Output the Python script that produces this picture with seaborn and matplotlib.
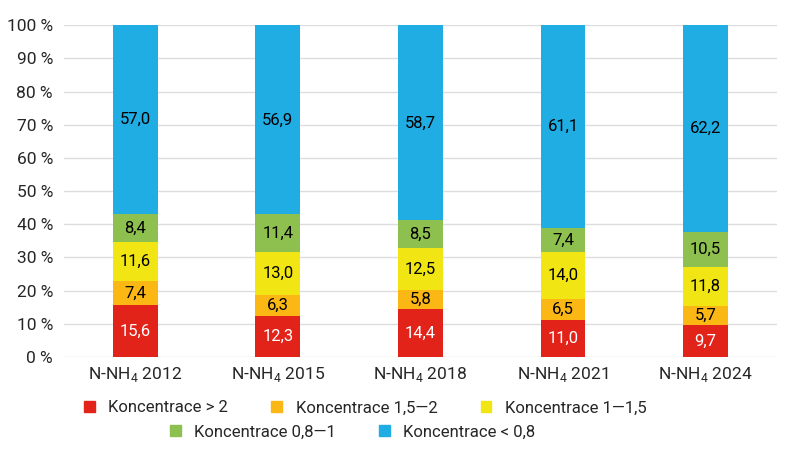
import pandas as pd
import matplotlib.pyplot as plt
import seaborn as sns
import numpy as np

# data
years = ['2012', '2015', '2018', '2021', '2024']
labels = ['N-NH$_4$ ' + y for y in years]
categories = ['Koncentrace > 2', 'Koncentrace 1,5\u20142', 'Koncentrace 1\u20141,5',
              'Koncentrace 0,8\u20141', 'Koncentrace < 0,8']
v_gt2 = [15.6, 12.3, 14.4, 11.0, 9.7]
v_15_2 = [7.4, 6.3, 5.8, 6.5, 5.7]
v_1_15 = [11.6, 13.0, 12.5, 14.0, 11.8]
v_08_1 = [8.4, 11.4, 8.5, 7.4, 10.5]
v_lt08 = [57.0, 56.9, 58.7, 61.1, 62.2]
series = [v_gt2, v_15_2, v_1_15, v_08_1, v_lt08]

colors = ['#E2231A', '#FBB714', '#F2E514', '#8DC04F', '#1FADE4']
text_colors = ['white', 'black', 'black', 'black', 'black']

sns.set_style('white')
plt.rcParams['font.family'] = ['Roboto', 'DejaVu Sans']
plt.rcParams['mathtext.fontset'] = 'custom'
plt.rcParams['mathtext.rm'] = 'Roboto'

fig = plt.figure(figsize=(8, 4.49), dpi=100)
ax = fig.add_axes([0.08, 0.205, 0.891, 0.739])

arr = np.array(series)
cum = np.cumsum(arr, axis=0)

# draw cumulative totals from the top down so they overlap into a stack
for i in range(len(series) - 1, -1, -1):
    df = pd.DataFrame({'label': labels, 'value': cum[i]})
    sns.barplot(data=df, x='label', y='value', color=colors[i], width=0.315,
                saturation=1, linewidth=0, ax=ax, zorder=3)

for i in range(len(series)):
    for j in range(len(labels)):
        mid = cum[i][j] - arr[i][j] / 2
        ax.text(j, mid, f'{arr[i][j]:.1f}'.replace('.', ','), ha='center', va='center',
                fontsize=12, color=text_colors[i], zorder=4)

ax.set_ylim(0, 100)
ax.set_xlim(-0.5, len(labels) - 0.5)
ax.set_yticks(range(0, 101, 10))
ax.set_yticklabels([f'{t} %' for t in range(0, 101, 10)], fontsize=12.5)
ax.tick_params(axis='x', labelsize=12.5, length=0, pad=6)
ax.tick_params(axis='y', length=0, pad=8)
ax.set_xlabel('')
ax.set_ylabel('')
ax.yaxis.grid(True, color='#DDDDDD', linewidth=1, zorder=0)
for s in ax.spines.values():
    s.set_visible(False)

handles = [plt.Rectangle((0, 0), 1, 1, color=c) for c in colors]
common = dict(loc='center left', frameon=False, fontsize=12,
              handlelength=0.65, handleheight=0.65, handletextpad=0.8, columnspacing=2.6,
              borderpad=0, borderaxespad=0)
fig.legend(handles[:3], categories[:3], ncol=3, bbox_to_anchor=(84 / 800, 1 - 408 / 449), **common)
fig.legend(handles[3:], categories[3:], ncol=2, bbox_to_anchor=(170 / 800, 1 - 432 / 449), **common)

fig.savefig('out.png', dpi=100)
